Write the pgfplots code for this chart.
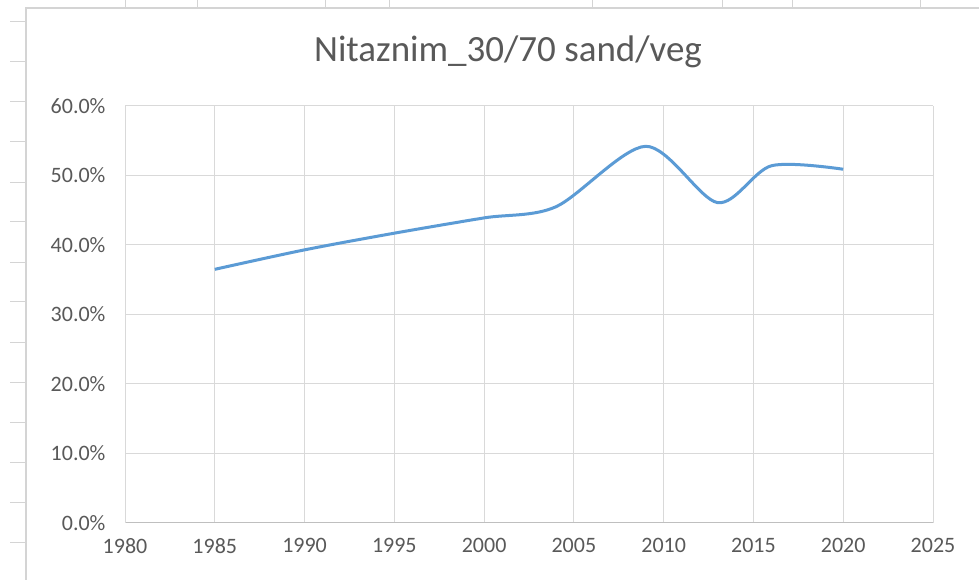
\documentclass[border=0pt]{standalone}
\usepackage{pgfplots}
\pgfplotsset{compat=1.18}
\usepackage{fontspec}
\setmainfont{Carlito}
\definecolor{txt}{HTML}{595959}
\definecolor{gridc}{HTML}{D9D9D9}
\definecolor{axc}{HTML}{BFBFBF}
\definecolor{line}{HTML}{5B9BD5}
\definecolor{sheet}{HTML}{D4D4D4}
\begin{document}
\begin{tikzpicture}[x=1pt,y=1pt]
\fill[white] (0,0) rectangle (979,580);
\useasboundingbox (0,0) rectangle (979,580);
% spreadsheet cell lines around the chart
\foreach \xx in {125,197,325,389,592,722,792,920} {\draw[sheet,line width=1pt] (\xx,580) -- (\xx,572);}
\foreach \yy in {22,62,102,142,183,222,263,302,343,383,423,463,503,543} {\draw[sheet,line width=1pt] (10,580-\yy) -- (26,580-\yy);}
\draw[sheet,line width=1.2pt] (26,0) -- (26,572) -- (979,572);
\node[text=txt,font=\fontsize{37}{40}\selectfont] at (508,528) {Nitaznim\_30/70 sand/veg};
\begin{axis}[
  at={(125pt,57pt)}, anchor=south west,
  scale only axis, width=808pt, height=417pt,
  xmin=1980, xmax=2025, ymin=0, ymax=60,
  xtick={1980,1985,...,2025}, ytick={0,10,...,60},
  /pgf/number format/assume math mode=true,
  xticklabel={\pgfmathprintnumber[1000 sep={},fixed]{\tick}},
  yticklabel={\pgfmathprintnumber[fixed,fixed zerofill,precision=1]{\tick}\%},
  tick label style={text=txt,font=\fontsize{22}{24}\selectfont},
  xticklabel style={yshift=-12pt},
  yticklabel style={xshift=-16pt},
  major tick length=0pt,
  grid=major, grid style={gridc,line width=1pt},
  axis line style={gridc,line width=1pt},
  axis x line*=bottom, axis y line*=left,
  x axis line style={axc},
  clip=false,
]
\addplot[line,line width=3pt,smooth,tension=0.5] coordinates {
 (1985,36.5) (1990,39.3) (1995,41.7) (2000,43.9) (2004,45.5)
 (2009,54.2) (2013,46.1) (2016,51.4) (2020,50.9)
};
\end{axis}
\end{tikzpicture}
\end{document}
